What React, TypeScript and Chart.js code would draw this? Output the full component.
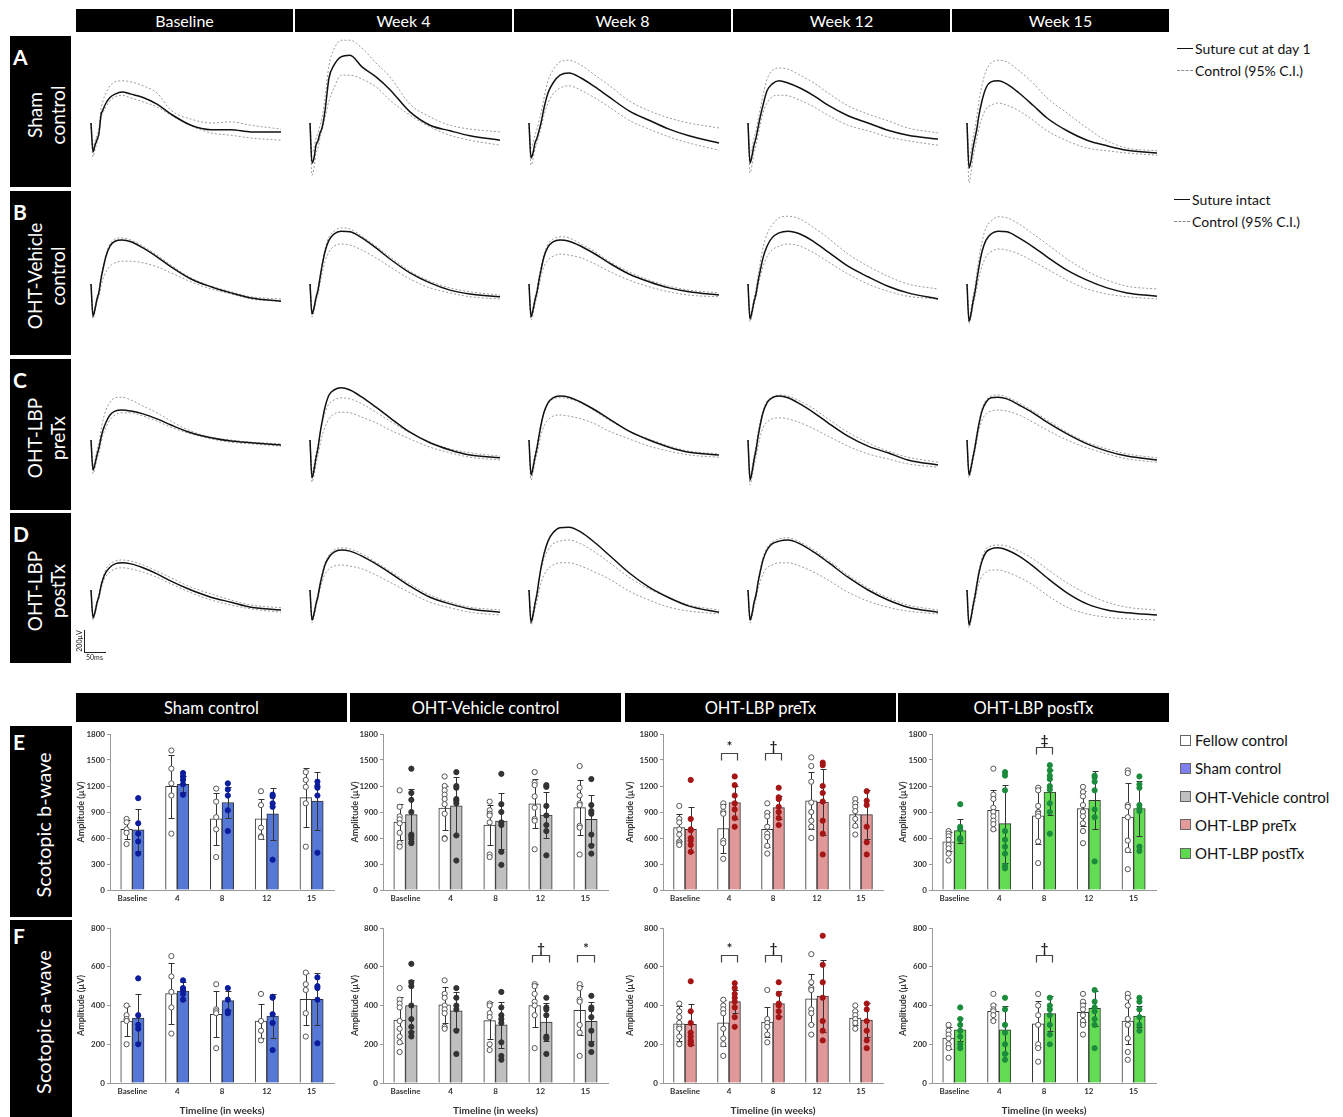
import React, { useEffect, useRef } from "react";
import { Chart, registerables } from "chart.js";
Chart.register(...registerables);

const FONT = "Lato, 'Open Sans', 'DejaVu Sans', sans-serif";

// ---------------- Waveform (ERG) panels ----------------
const waveColumnTitles = ["Baseline", "Week 4", "Week 8", "Week 12", "Week 15"];
const waveRowLetters = ["A", "B", "C", "D"];
const waveRowNames = [["Sham", "control"], ["OHT-Vehicle", "control"], ["OHT-LBP", "preTx"], ["OHT-LBP", "postTx"]];
// time (ms) after flash
const waveTimesMs = [0, 5, 10, 15, 20, 25, 30, 37.5, 47.5, 60, 77.5, 100, 130, 165, 200, 250, 300, 350, 400, 475];

// amplitudes (µV) for each column: Baseline, Week 4, Week 8, Week 12, Week 15
const rowA_mean = [
  [0, -260, -200, -150, -90, 70, 120, 180, 230, 260, 280, 260, 230, 170, 80, -20, -60, -60, -80, -80],
  [0, -360, -315, -200, -160, -90, -45, 110, 405, 520, 595, 610, 505, 415, 300, 100, -20, -70, -115, -155],
  [0, -315, -270, -180, -135, -70, 0, 135, 270, 360, 430, 450, 405, 325, 235, 110, 25, -55, -115, -180],
  [0, -360, -295, -200, -135, -45, 45, 160, 290, 350, 380, 360, 315, 245, 160, 65, 0, -65, -110, -145],
  [0, -405, -340, -225, -135, -45, 70, 200, 315, 370, 380, 350, 270, 160, 45, -70, -155, -205, -245, -270],
];
const rowA_upper = [
  [0, -225, -160, -110, -45, 125, 200, 270, 335, 370, 380, 370, 335, 270, 115, 35, 0, 10, -20, -55],
  [0, -270, -225, -135, -90, -25, 45, 225, 520, 665, 745, 745, 675, 540, 415, 170, 55, -20, -55, -80],
  [0, -225, -180, -110, -55, 20, 90, 225, 380, 475, 550, 565, 520, 430, 340, 200, 110, 45, 0, -45],
  [0, -270, -225, -135, -70, 25, 115, 250, 395, 470, 495, 485, 430, 360, 270, 155, 80, 20, -45, -90],
  [0, -315, -250, -135, -45, 70, 200, 340, 470, 540, 565, 550, 470, 360, 225, 90, -45, -160, -225, -250],
];
const rowA_lower = [
  [0, -305, -235, -180, -110, 45, 90, 145, 200, 235, 250, 225, 190, 145, 70, -25, -90, -110, -135, -155],
  [0, -470, -405, -270, -225, -135, -70, 45, 200, 315, 430, 430, 395, 325, 205, 70, -35, -110, -155, -200],
  [0, -380, -325, -235, -180, -110, -45, 70, 180, 260, 315, 335, 295, 225, 145, 25, -55, -125, -180, -245],
  [0, -450, -380, -270, -200, -110, -25, 90, 180, 235, 250, 245, 205, 145, 70, -20, -70, -125, -160, -200],
  [0, -540, -450, -315, -225, -135, -45, 45, 125, 160, 180, 160, 110, 25, -70, -160, -225, -250, -270, -290],
];
const rowB_mean = [
  [0, -290, -225, -135, -70, 45, 135, 250, 340, 385, 395, 380, 325, 245, 155, 45, -25, -80, -125, -155],
  [0, -270, -215, -125, -55, 55, 160, 290, 395, 450, 475, 470, 415, 325, 225, 100, 10, -55, -90, -115],
  [0, -295, -235, -145, -70, 35, 125, 245, 335, 380, 395, 385, 340, 270, 190, 90, 20, -35, -70, -100],
  [0, -315, -250, -160, -90, 20, 110, 235, 340, 415, 460, 475, 450, 380, 290, 160, 65, -20, -80, -135],
  [0, -335, -270, -160, -70, 45, 155, 290, 395, 450, 475, 470, 415, 335, 245, 125, 35, -35, -80, -110],
];
const rowB_upper = [
  [0, -270, -205, -115, -55, 65, 155, 270, 360, 405, 415, 395, 340, 260, 170, 55, -20, -70, -115, -135],
  [0, -250, -200, -110, -35, 70, 180, 315, 425, 475, 505, 495, 430, 340, 245, 115, 25, -35, -70, -100],
  [0, -270, -205, -115, -45, 65, 155, 270, 360, 405, 425, 415, 360, 290, 205, 110, 35, -20, -55, -80],
  [0, -290, -225, -125, -45, 70, 180, 325, 450, 530, 595, 610, 585, 505, 415, 270, 160, 70, 0, -45],
  [0, -295, -225, -110, -20, 110, 235, 380, 505, 565, 605, 595, 540, 450, 360, 225, 115, 35, -20, -45],
];
const rowB_lower = [
  [0, -315, -250, -160, -110, -20, 45, 110, 160, 190, 205, 205, 190, 155, 100, 20, -45, -90, -135, -155],
  [0, -295, -245, -155, -90, 0, 90, 200, 290, 340, 360, 350, 305, 235, 155, 45, -35, -80, -115, -135],
  [0, -325, -270, -180, -110, -20, 65, 155, 215, 250, 270, 260, 235, 180, 115, 35, -25, -70, -100, -115],
  [0, -340, -280, -190, -115, -25, 55, 155, 245, 305, 340, 360, 340, 280, 200, 90, 0, -65, -110, -135],
  [0, -360, -295, -200, -115, -25, 65, 160, 245, 290, 315, 305, 270, 205, 135, 35, -45, -90, -115, -135],
];
const rowC_mean = [
  [0, -270, -215, -135, -70, 20, 90, 160, 225, 260, 270, 260, 235, 190, 135, 65, 20, -10, -25, -45],
  [0, -340, -270, -160, -70, 55, 160, 295, 405, 450, 470, 450, 385, 295, 200, 70, -25, -90, -135, -160],
  [0, -315, -250, -155, -70, 35, 135, 250, 335, 380, 395, 385, 340, 270, 190, 80, 0, -65, -110, -135],
  [0, -360, -290, -180, -90, 25, 125, 245, 335, 380, 395, 380, 325, 245, 155, 35, -55, -115, -180, -225],
  [0, -315, -250, -155, -65, 45, 145, 260, 340, 380, 385, 370, 315, 245, 160, 55, -35, -100, -145, -180],
];
const rowC_upper = [
  [0, -235, -180, -90, -20, 90, 180, 270, 340, 380, 385, 360, 305, 245, 170, 80, 25, 0, -20, -35],
  [0, -290, -225, -125, -45, 55, 145, 245, 325, 360, 380, 370, 325, 250, 170, 65, -20, -80, -115, -145],
  [0, -290, -225, -125, -45, 55, 145, 245, 325, 370, 380, 370, 335, 260, 180, 80, 10, -55, -100, -125],
  [0, -325, -250, -145, -55, 65, 160, 270, 350, 385, 405, 395, 350, 280, 190, 70, -25, -100, -155, -200],
  [0, -290, -225, -125, -35, 70, 170, 280, 360, 395, 405, 385, 335, 260, 180, 70, -20, -80, -125, -160],
];
const rowC_lower = [
  [0, -305, -250, -170, -110, -25, 45, 115, 180, 225, 245, 245, 215, 170, 115, 55, 10, -20, -35, -55],
  [0, -380, -315, -215, -135, -45, 35, 115, 190, 235, 250, 245, 205, 155, 90, 10, -65, -115, -155, -180],
  [0, -360, -295, -200, -125, -35, 45, 125, 180, 215, 225, 215, 190, 145, 80, 10, -55, -100, -135, -155],
  [0, -405, -335, -235, -155, -55, 25, 110, 160, 190, 200, 190, 155, 100, 35, -55, -125, -170, -215, -245],
  [0, -340, -280, -180, -100, 0, 90, 180, 235, 260, 270, 260, 225, 160, 90, 0, -70, -125, -170, -200],
];
const rowD_mean = [
  [0, -250, -200, -115, -55, 35, 100, 160, 205, 235, 245, 235, 200, 145, 80, 0, -65, -110, -155, -180],
  [0, -270, -215, -125, -55, 45, 125, 225, 295, 340, 360, 350, 305, 235, 155, 35, -65, -125, -170, -200],
  [0, -290, -225, -125, -35, 90, 200, 325, 440, 515, 560, 565, 520, 425, 315, 155, 25, -70, -145, -200],
  [0, -270, -215, -115, -45, 65, 155, 270, 360, 415, 440, 450, 415, 340, 250, 115, 0, -90, -155, -200],
  [0, -315, -250, -145, -55, 55, 155, 260, 340, 370, 380, 360, 305, 215, 110, -25, -125, -180, -205, -225],
];
const rowD_upper = [
  [0, -235, -180, -100, -35, 55, 115, 190, 235, 260, 270, 260, 225, 170, 110, 25, -35, -90, -135, -160],
  [0, -250, -200, -110, -35, 65, 145, 245, 315, 360, 380, 370, 325, 250, 170, 55, -45, -110, -155, -180],
  [0, -260, -200, -100, -20, 90, 180, 280, 360, 415, 440, 450, 415, 340, 250, 115, 10, -70, -135, -180],
  [0, -250, -200, -100, -25, 80, 170, 290, 380, 430, 460, 470, 430, 360, 270, 135, 20, -70, -135, -180],
  [0, -290, -225, -115, -25, 80, 180, 290, 370, 395, 405, 395, 350, 280, 190, 65, -35, -110, -155, -180],
];
const rowD_lower = [
  [0, -270, -215, -135, -70, 10, 70, 125, 160, 190, 200, 190, 160, 115, 55, -25, -90, -135, -170, -200],
  [0, -295, -245, -155, -80, 10, 70, 145, 190, 215, 225, 215, 190, 135, 70, -25, -110, -160, -200, -225],
  [0, -315, -260, -170, -100, -10, 65, 135, 190, 225, 245, 245, 215, 160, 100, -10, -90, -155, -190, -215],
  [0, -295, -245, -155, -80, 10, 70, 145, 200, 225, 245, 245, 215, 160, 90, -20, -100, -155, -190, -215],
  [0, -340, -280, -180, -100, -10, 65, 125, 160, 180, 180, 160, 115, 45, -45, -155, -215, -245, -260, -270],
];
const waveMeans = [rowA_mean, rowB_mean, rowC_mean, rowD_mean];
const waveUppers = [rowA_upper, rowB_upper, rowC_upper, rowD_upper];
const waveLowers = [rowA_lower, rowB_lower, rowC_lower, rowD_lower];

// ---------------- Bar panels ----------------
const timeCats = ["Baseline", "4", "8", "12", "15"];
const groupTitles = ["Sham control", "OHT-Vehicle control", "OHT-LBP preTx", "OHT-LBP postTx"];
const barRowLetters = ["E", "F"];
const barRowNames = ["Scotopic b-wave", "Scotopic a-wave"];

// E: scotopic b-wave (µV)
const shamB_fellowMean = [700, 1195, 820, 820, 1065];
const shamB_fellowSD = [110, 360, 300, 230, 340];
const shamB_treatMean = [695, 1220, 1010, 880, 1025];
const shamB_treatSD = [240, 90, 180, 300, 335];
const shamB_fellowPts = [[820, 780, 700, 660, 530], [1610, 1400, 1230, 1090, 650], [1170, 1020, 840, 700, 380], [1140, 980, 720, 620, 610], [1360, 1270, 1190, 1000, 500]];
const shamB_treatPts = [[1060, 770, 650, 560, 420], [1350, 1310, 1270, 1220, 1100], [1230, 1160, 1090, 920, 680], [1100, 1080, 1000, 960, 350], [1250, 1200, 1180, 1090, 430]];
const shamB_sig = ["", "", "", "", ""];
const shamB_sigY = [0, 0, 0, 0, 0];

const vehB_fellowMean = [785, 945, 750, 995, 950];
const vehB_fellowSD = [210, 255, 235, 280, 315];
const vehB_treatMean = [870, 970, 795, 865, 815];
const vehB_treatSD = [300, 330, 325, 270, 280];
const vehB_fellowPts = [[1150, 960, 850, 815, 770, 660, 540, 500], [1310, 1200, 1150, 1100, 1050, 990, 880, 600, 590], [1020, 920, 880, 860, 780, 410, 380], [1360, 1240, 1210, 1080, 950, 820, 800, 470], [1430, 1180, 1090, 1000, 980, 740, 720, 410]];
const vehB_treatPts = [[1400, 1120, 1040, 900, 640, 620, 590, 540], [1360, 1200, 1180, 1050, 1030, 1000, 630, 340], [1340, 990, 900, 780, 750, 440, 290], [1210, 1190, 970, 860, 750, 680, 400], [1280, 980, 910, 880, 640, 510, 420]];
const vehB_sig = ["", "", "", "", ""];
const vehB_sigY = [0, 0, 0, 0, 0];

const preB_fellowMean = [720, 710, 700, 1030, 870];
const preB_fellowSD = [160, 280, 200, 330, 140];
const preB_treatMean = [700, 1010, 950, 1015, 870];
const preB_treatSD = [260, 190, 130, 380, 280];
const preB_fellowPts = [[970, 820, 780, 700, 640, 560, 540, 520], [1000, 960, 900, 880, 570, 540, 360], [1000, 890, 850, 730, 650, 610, 510, 420], [1530, 1430, 1250, 1010, 900, 800, 730, 600], [1050, 1000, 960, 910, 820, 740, 640]];
const preB_treatPts = [[1270, 820, 700, 690, 600, 570, 520, 440], [1310, 1210, 1090, 1000, 930, 830, 730], [1180, 1070, 1050, 960, 900, 830, 750], [1470, 1440, 1200, 1120, 1020, 800, 650, 410], [1140, 1030, 980, 730, 550, 410]];
const preB_sig = ["", "*", "†", "", ""];
const preB_sigY = [0, 1577, 1577, 0, 0];

const postB_fellowMean = [555, 920, 855, 940, 840];
const postB_fellowSD = [110, 230, 330, 200, 400];
const postB_treatMean = [685, 765, 1130, 1035, 940];
const postB_treatSD = [140, 450, 260, 335, 320];
const postB_fellowPts = [[680, 650, 620, 580, 520, 480, 420, 340], [1400, 1100, 1050, 950, 900, 850, 800, 760, 700], [1180, 1150, 970, 900, 880, 850, 560, 310], [1190, 1130, 1080, 980, 900, 850, 770, 680, 540], [1380, 1350, 980, 960, 840, 570, 460, 240]];
const postB_treatPts = [[990, 730, 700, 600, 590, 580], [1360, 1320, 1150, 680, 580, 500, 420, 280, 250], [1440, 1380, 1320, 1280, 1200, 1160, 1000, 900, 650], [1320, 1300, 1250, 1150, 930, 840, 330], [1310, 1220, 1180, 980, 940, 910, 500, 450]];
const postB_sig = ["", "", "‡", "", ""];
const postB_sigY = [0, 0, 1654, 0, 0];

// F: scotopic a-wave (µV)
const shamA_fellowMean = [320, 462, 355, 320, 432];
const shamA_fellowSD = [75, 155, 118, 90, 135];
const shamA_treatMean = [335, 475, 425, 345, 432];
const shamA_treatSD = [125, 45, 50, 115, 135];
const shamA_fellowPts = [[400, 350, 330, 320, 200], [655, 550, 470, 390, 255], [510, 380, 370, 360, 180], [460, 320, 270, 220], [570, 510, 480, 360, 240]];
const shamA_treatPts = [[540, 350, 300, 280, 200], [530, 490, 480, 460, 430], [490, 430, 370, 360], [445, 440, 355, 310, 170], [545, 500, 490, 430, 205]];
const shamA_sig = ["", "", "", "", ""];
const shamA_sigY = [0, 0, 0, 0, 0];

const vehA_fellowMean = [325, 403, 322, 400, 375];
const vehA_fellowSD = [120, 95, 95, 110, 125];
const vehA_treatMean = [400, 373, 300, 315, 318];
const vehA_treatSD = [130, 95, 120, 100, 100];
const vehA_fellowPts = [[490, 430, 410, 390, 320, 280, 240, 210, 160], [530, 460, 440, 400, 380, 360, 290, 280], [410, 400, 360, 340, 200, 170], [510, 500, 460, 420, 400, 350, 180], [510, 490, 430, 420, 300, 260, 140]];
const vehA_treatPts = [[615, 520, 500, 400, 330, 290, 260, 240], [490, 440, 400, 380, 270, 150], [470, 390, 350, 330, 310, 210, 140, 120], [440, 390, 380, 350, 240, 230, 150], [450, 390, 380, 340, 270, 200, 160]];
const vehA_sig = ["", "", "", "†", "*"];
const vehA_sigY = [0, 0, 0, 661, 661];

const preA_fellowMean = [305, 310, 315, 435, 335];
const preA_fellowSD = [90, 120, 75, 130, 35];
const preA_treatMean = [303, 420, 410, 448, 325];
const preA_treatSD = [105, 60, 65, 185, 90];
const preA_fellowPts = [[410, 370, 340, 310, 290, 280, 240, 200], [430, 400, 380, 360, 280, 230, 200, 140], [480, 330, 310, 290, 250, 210], [665, 520, 490, 480, 380, 360, 300, 250], [400, 370, 350, 330, 310, 280]];
const preA_treatPts = [[525, 370, 310, 260, 240, 220, 210, 200], [515, 490, 460, 440, 420, 390, 340, 290], [520, 460, 410, 400, 370, 340], [760, 610, 520, 440, 320, 270, 220], [410, 380, 320, 270, 220, 180]];
const preA_sig = ["", "*", "†", "", ""];
const preA_sigY = [0, 661, 661, 0, 0];

const postA_fellowMean = [232, 370, 305, 365, 320];
const postA_fellowSD = [55, 40, 120, 50, 120];
const postA_treatMean = [275, 275, 358, 385, 345];
const postA_treatSD = [60, 120, 90, 90, 55];
const postA_fellowPts = [[300, 270, 250, 230, 200, 180, 130], [460, 400, 380, 370, 350, 320], [460, 400, 350, 300, 200, 180, 110], [460, 420, 400, 380, 350, 320, 300, 250], [460, 440, 400, 330, 300, 230, 160, 120]];
const postA_treatPts = [[390, 330, 300, 270, 240, 200, 180], [440, 380, 300, 260, 200, 150, 120], [440, 400, 380, 350, 300, 250, 200], [480, 420, 390, 370, 330, 300, 180], [440, 420, 380, 340, 300, 270]];
const postA_sig = ["", "", "†", "", ""];
const postA_sigY = [0, 0, 661, 0, 0];

const legendLabels = ["Fellow control", "Sham control", "OHT-Vehicle control", "OHT-LBP preTx", "OHT-LBP postTx"];
const legendColors = ["#ffffff", "#7f80ee", "#c0c0c0", "#e29a9a", "#5cd94c"];
const barColors = ["#5577d5", "#bfbfbf", "#e09898", "#62dc52"];
const pointColors = ["#0b1c9c", "#333333", "#a51515", "#1b8c3c"];

// ---------------- layout ----------------
const UV_PER_PX = 9;
const MS_PER_PX = 2.5;
const waveColLefts = [76, 295, 514, 733, 952];
const waveColW = 217;
const waveRowTops = [36, 191, 359, 513];
const waveRowHs = [151, 164, 151, 150];
const waveZeroPx = [87, 93, 81, 77];
const barColLefts = [76, 350, 625, 898];
const barColW = 271;
const barYAxisW = [34, 33, 38, 34];
const BAR_OFFSET = 0.13; // half bar width, in category units

function WaveChart({ left, top, width, height, zeroPx, mean, upper, lower }: any) {
  const ref = useRef<HTMLCanvasElement>(null);
  useEffect(() => {
    const pts = (arr: number[]) => arr.map((v, i) => ({ x: waveTimesMs[i], y: v }));
    const yMax = zeroPx * UV_PER_PX;
    const yMin = yMax - height * UV_PER_PX;
    const xMin = -15 * MS_PER_PX;
    const chart = new Chart(ref.current!, {
      type: "line",
      data: {
        datasets: [
          { data: pts(mean), borderColor: "#111", borderWidth: 1.5, pointRadius: 0, cubicInterpolationMode: "monotone" },
          { data: pts(upper), borderColor: "#9a9a9a", borderWidth: 1, borderDash: [2, 2], pointRadius: 0, cubicInterpolationMode: "monotone" },
          { data: pts(lower), borderColor: "#9a9a9a", borderWidth: 1, borderDash: [2, 2], pointRadius: 0, cubicInterpolationMode: "monotone" },
        ],
      } as any,
      options: {
        responsive: false,
        animation: false,
        devicePixelRatio: 1,
        layout: { padding: 0 },
        plugins: { legend: { display: false }, tooltip: { enabled: false } },
        scales: {
          x: { type: "linear", display: false, min: xMin, max: xMin + width * MS_PER_PX },
          y: { type: "linear", display: false, min: yMin, max: yMax },
        },
      } as any,
    });
    return () => chart.destroy();
  }, []);
  return <canvas ref={ref} width={width} height={height} style={{ position: "absolute", left, top, width, height }} />;
}

function BarPanel(p: any) {
  const ref = useRef<HTMLCanvasElement>(null);
  useEffect(() => {
    const fBars = p.fMean.map((v: number, i: number) => ({ x: i - BAR_OFFSET, y: v }));
    const tBars = p.tMean.map((v: number, i: number) => ({ x: i + BAR_OFFSET, y: v }));
    const fScatter = p.fPts.flatMap((arr: number[], i: number) => arr.map((v) => ({ x: i - BAR_OFFSET, y: v })));
    const tScatter = p.tPts.flatMap((arr: number[], i: number) => arr.map((v) => ({ x: i + BAR_OFFSET, y: v })));
    const overlay = {
      id: "overlay",
      afterDatasetDraw(chart: any, args: any) {
        if (args.index !== 0) return;
        const ctx = chart.ctx;
        const ys = chart.scales.y;
        ctx.save();
        ctx.strokeStyle = "#333";
        ctx.lineWidth = 1;
        [0, 1].forEach((di) => {
          const meta = chart.getDatasetMeta(di);
          const means = di === 0 ? p.fMean : p.tMean;
          const sds = di === 0 ? p.fSD : p.tSD;
          meta.data.forEach((el: any, i: number) => {
            const x = Math.round(el.x) + 0.5;
            const y1 = Math.round(ys.getPixelForValue(means[i] + sds[i])) + 0.5;
            const y2 = Math.round(ys.getPixelForValue(Math.max(0, means[i] - sds[i]))) + 0.5;
            ctx.beginPath();
            ctx.moveTo(x, y1);
            ctx.lineTo(x, y2);
            ctx.moveTo(x - 3, y1);
            ctx.lineTo(x + 3, y1);
            ctx.moveTo(x - 3, y2);
            ctx.lineTo(x + 3, y2);
            ctx.stroke();
          });
        });
        ctx.restore();
      },
      afterDatasetsDraw(chart: any) {
        const ctx = chart.ctx;
        const ys = chart.scales.y;
        const xs = chart.scales.x2;
        ctx.save();
        ctx.strokeStyle = "#444";
        ctx.lineWidth = 1.2;
        ctx.fillStyle = "#222";
        ctx.font = `bold 13px ${FONT}`;
        ctx.textAlign = "center";
        ctx.textBaseline = "alphabetic";
        p.sig.forEach((s: string, i: number) => {
          if (!s) return;
          const xl = Math.round(xs.getPixelForValue(i - 0.18)) + 0.5;
          const xr = Math.round(xs.getPixelForValue(i + 0.18)) + 0.5;
          const yt = Math.round(ys.getPixelForValue(p.sigY[i])) + 0.5;
          ctx.beginPath();
          ctx.moveTo(xl, yt + 7);
          ctx.lineTo(xl, yt);
          ctx.lineTo(xr, yt);
          ctx.lineTo(xr, yt + 7);
          ctx.stroke();
          ctx.fillText(s, (xl + xr) / 2, yt - 3);
        });
        ctx.restore();
      },
    };
    const tickFont = { family: FONT, size: 8, weight: "bold" };
    const barCommon = { borderColor: "#333", borderWidth: 1, grouped: false, categoryPercentage: 1, barPercentage: 1, xAxisID: "x2", yAxisID: "y" };
    const chart = new Chart(ref.current!, {
      type: "bar",
      data: {
        labels: timeCats,
        datasets: [
          { type: "bar", data: fBars, backgroundColor: "#ffffff", order: 2, ...barCommon },
          { type: "bar", data: tBars, backgroundColor: p.barColor, order: 3, ...barCommon },
          { type: "scatter", data: fScatter, xAxisID: "x2", yAxisID: "y", pointRadius: 2.6, pointBackgroundColor: "#ffffff", pointBorderColor: "#555", pointBorderWidth: 1, order: 1 },
          { type: "scatter", data: tScatter, xAxisID: "x2", yAxisID: "y", pointRadius: 2.6, pointBackgroundColor: p.ptColor, pointBorderColor: p.ptColor, pointBorderWidth: 1, order: 0 },
        ],
      } as any,
      options: {
        responsive: false,
        animation: false,
        devicePixelRatio: 1,
        layout: { padding: { top: 8, right: 13, left: 0, bottom: 0 } },
        plugins: { legend: { display: false }, tooltip: { enabled: false } },
        scales: {
          x: {
            type: "category",
            offset: true,
            grid: { display: false, drawTicks: false },
            border: { display: true, color: "#999" },
            ticks: { font: tickFont, color: "#333", padding: 4, maxRotation: 0, autoSkip: false },
            title: { display: p.xTitle, text: "Timeline (in weeks)", font: { family: FONT, size: 10, weight: "bold" }, color: "#333", padding: { top: 0, bottom: 0 } },
            afterFit: (s: any) => { s.height = p.xAxisH; s.paddingLeft = 0; s.paddingRight = 0; },
          },
          x2: { type: "linear", display: false, offset: false, grid: { offset: false }, min: -0.5, max: 4.5 },
          y: {
            min: 0,
            max: p.yMax,
            ticks: { stepSize: p.yStep, font: tickFont, color: "#333", padding: 2, callback: (v: any) => String(v) },
            grid: { drawOnChartArea: false, tickLength: 3, color: "#999" },
            border: { display: true, color: "#999" },
            title: { display: true, text: "Amplitude (µV)", font: { family: FONT, size: 9, weight: "bold" }, color: "#333", padding: 0 },
            afterFit: (s: any) => { s.width = p.yAxisW; s.paddingTop = 0; s.paddingBottom = 0; },
          },
        },
      } as any,
      plugins: [overlay as any],
    });
    return () => chart.destroy();
  }, []);
  return <canvas ref={ref} width={p.width} height={p.height} style={{ position: "absolute", left: p.left, top: p.top, width: p.width, height: p.height }} />;
}

function Header({ left, top, width, height, text, size }: any) {
  return (
    <div style={{ position: "absolute", left, top, width, height, background: "#000", color: "#fff", fontSize: size, display: "flex", alignItems: "center", justifyContent: "center", whiteSpace: "nowrap" }}>
      {text}
    </div>
  );
}

function RowLabel({ left, top, width, height, letter, lines, size, letterTop, shift, lineH }: any) {
  return (
    <div style={{ position: "absolute", left, top, width, height, background: "#000", color: "#fff" }}>
      <div style={{ position: "absolute", left: 3, top: letterTop, fontWeight: 700, fontSize: 21, lineHeight: "24px" }}>{letter}</div>
      <div style={{ position: "absolute", left: width / 2 + shift, top: height / 2 + 3, transform: "translate(-50%, -50%) rotate(-90deg)", whiteSpace: "nowrap", textAlign: "center", fontSize: size, lineHeight: `${lineH}px` }}>
        {lines.map((l: string) => <div key={l}>{l}</div>)}
      </div>
    </div>
  );
}

function LineLegend({ left, top, dashed, text }: any) {
  return (
    <div style={{ position: "absolute", left, top, display: "flex", alignItems: "center", fontSize: 14, color: "#111", whiteSpace: "nowrap", lineHeight: "17px" }}>
      <div style={{ width: 16, height: 0, borderTop: dashed ? "1px dashed #8a8a8a" : "1.6px solid #111", marginRight: 2 }} />
      <span>{text}</span>
    </div>
  );
}

const barPanels = [
  [
    { fMean: shamB_fellowMean, fSD: shamB_fellowSD, tMean: shamB_treatMean, tSD: shamB_treatSD, fPts: shamB_fellowPts, tPts: shamB_treatPts, sig: shamB_sig, sigY: shamB_sigY },
    { fMean: vehB_fellowMean, fSD: vehB_fellowSD, tMean: vehB_treatMean, tSD: vehB_treatSD, fPts: vehB_fellowPts, tPts: vehB_treatPts, sig: vehB_sig, sigY: vehB_sigY },
    { fMean: preB_fellowMean, fSD: preB_fellowSD, tMean: preB_treatMean, tSD: preB_treatSD, fPts: preB_fellowPts, tPts: preB_treatPts, sig: preB_sig, sigY: preB_sigY },
    { fMean: postB_fellowMean, fSD: postB_fellowSD, tMean: postB_treatMean, tSD: postB_treatSD, fPts: postB_fellowPts, tPts: postB_treatPts, sig: postB_sig, sigY: postB_sigY },
  ],
  [
    { fMean: shamA_fellowMean, fSD: shamA_fellowSD, tMean: shamA_treatMean, tSD: shamA_treatSD, fPts: shamA_fellowPts, tPts: shamA_treatPts, sig: shamA_sig, sigY: shamA_sigY },
    { fMean: vehA_fellowMean, fSD: vehA_fellowSD, tMean: vehA_treatMean, tSD: vehA_treatSD, fPts: vehA_fellowPts, tPts: vehA_treatPts, sig: vehA_sig, sigY: vehA_sigY },
    { fMean: preA_fellowMean, fSD: preA_fellowSD, tMean: preA_treatMean, tSD: preA_treatSD, fPts: preA_fellowPts, tPts: preA_treatPts, sig: preA_sig, sigY: preA_sigY },
    { fMean: postA_fellowMean, fSD: postA_fellowSD, tMean: postA_treatMean, tSD: postA_treatSD, fPts: postA_fellowPts, tPts: postA_treatPts, sig: postA_sig, sigY: postA_sigY },
  ],
];
const barRowTops = [726, 920];
const barRowHs = [184, 197];
const barXAxisH = [20, 34];
const barYMax = [1800, 800];
const barYStep = [300, 200];
const barLabelHs = [191, 197];

export default function App() {
  return (
    <div style={{ position: "absolute", left: 0, top: 0, width: 1343, height: 1117, background: "#fff", overflow: "hidden", fontFamily: FONT }}>
      {waveColumnTitles.map((t, c) => (
        <Header key={t} left={waveColLefts[c]} top={9} width={waveColW} height={23} text={t} size={16} />
      ))}
      {waveRowLetters.map((L, r) => (
        <RowLabel key={L} left={10} top={waveRowTops[r]} width={61} height={waveRowHs[r]} letter={L} lines={waveRowNames[r]} size={19} letterTop={9} shift={5} lineH={23} />
      ))}
      {waveRowLetters.map((L, r) =>
        waveColumnTitles.map((t, c) => (
          <WaveChart key={L + t} left={waveColLefts[c]} top={waveRowTops[r]} width={waveColW} height={waveRowHs[r]} zeroPx={waveZeroPx[r]}
            mean={waveMeans[r][c]} upper={waveUppers[r][c]} lower={waveLowers[r][c]} />
        ))
      )}
      {/* scale bar */}
      <div style={{ position: "absolute", left: 84, top: 630, width: 0, height: 22, borderLeft: "1px solid #222" }} />
      <div style={{ position: "absolute", left: 84, top: 652, width: 22, height: 0, borderTop: "1px solid #222" }} />
      <div style={{ position: "absolute", left: 79, top: 641, transform: "translate(-50%, -50%) rotate(-90deg)", fontSize: 7, color: "#222", whiteSpace: "nowrap" }}>200µV</div>
      <div style={{ position: "absolute", left: 86, top: 653, fontSize: 7, color: "#222", whiteSpace: "nowrap" }}>50ms</div>

      <LineLegend left={1177} top={40} dashed={false} text="Suture cut at day 1" />
      <LineLegend left={1177} top={62} dashed={true} text="Control (95% C.I.)" />
      <LineLegend left={1174} top={191} dashed={false} text="Suture intact" />
      <LineLegend left={1174} top={213} dashed={true} text="Control (95% C.I.)" />

      {groupTitles.map((t, c) => (
        <Header key={t} left={barColLefts[c]} top={693} width={barColW} height={29} text={t} size={16.5} />
      ))}
      {barRowLetters.map((L, r) => (
        <RowLabel key={L} left={10} top={barRowTops[r]} width={62} height={barLabelHs[r]} letter={L} lines={[barRowNames[r]]} size={20} letterTop={4} shift={2} lineH={24} />
      ))}
      {barPanels.map((row, r) =>
        row.map((d, c) => (
          <BarPanel key={`${r}-${c}`} left={barColLefts[c]} top={barRowTops[r]} width={barColW} height={barRowHs[r]} xAxisH={barXAxisH[r]}
            yMax={barYMax[r]} yStep={barYStep[r]} yAxisW={barYAxisW[c]} barColor={barColors[c]} ptColor={pointColors[c]} xTitle={r === 1} {...d} />
        ))
      )}
      {legendLabels.map((l, i) => (
        <div key={l} style={{ position: "absolute", left: 1180, top: 731 + i * 28.3, display: "flex", alignItems: "center", fontSize: 15, color: "#111", whiteSpace: "nowrap", lineHeight: "18px" }}>
          <div style={{ width: 9, height: 9, background: legendColors[i], border: "1px solid #666", marginRight: 4 }} />
          <span>{l}</span>
        </div>
      ))}
    </div>
  );
}
